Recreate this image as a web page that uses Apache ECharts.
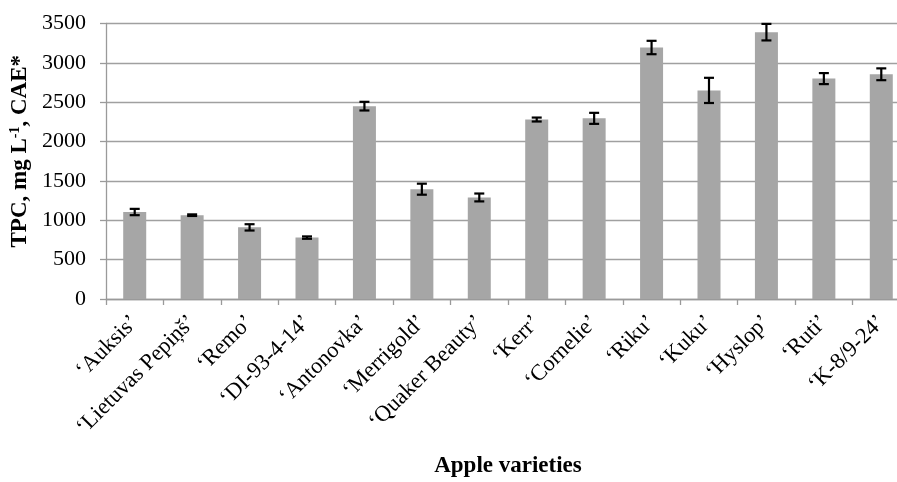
<!DOCTYPE html>
<html>
<head>
<meta charset="utf-8">
<script src="https://cdn.jsdelivr.net/npm/echarts@6/dist/echarts.min.js"></script>
<style>
  html, body { margin: 0; padding: 0; background: #fff; }
  #chart { width: 897px; height: 482px; }
</style>
</head>
<body>
<div id="chart"></div>
<script>
// Apple varieties and their total phenolic content (mg L-1, CAE)
const varieties = [
  '\u2018Auksis\u2019', '\u2018Lietuvas Pepiņš\u2019', '\u2018Remo\u2019', '\u2018DI-93-4-14\u2019',
  '\u2018Antonovka\u2019', '\u2018Merrigold\u2019', '\u2018Quaker Beauty\u2019', '\u2018Kerr\u2019',
  '\u2018Cornelie\u2019', '\u2018Riku\u2019', '\u2018Kuku\u2019', '\u2018Hyslop\u2019',
  '\u2018Ruti\u2019', '\u2018K-8/9-24\u2019'
];
const tpcMeans = [1105, 1065, 910, 780, 2450, 1395, 1290, 2280, 2295, 3195, 2650, 3390, 2800, 2855];
const tpcErrors = [40, 10, 40, 15, 55, 70, 50, 25, 70, 85, 160, 105, 70, 75];
const yTicks = { min: 0, max: 3500, step: 500 };

const serif = '"Liberation Serif", "Times New Roman", serif';
const chart = echarts.init(document.getElementById('chart'), null, { renderer: 'canvas' });

const errorData = tpcMeans.map((v, i) => [i, v - tpcErrors[i], v + tpcErrors[i]]);

chart.setOption({
  animation: false,
  backgroundColor: '#ffffff',
  grid: { left: 106, top: 23.5, width: 804, height: 275.5, containLabel: false, outerBoundsMode: 'none' },
  xAxis: {
    type: 'category',
    data: varieties,
    boundaryGap: true,
    name: 'Apple varieties',
    nameLocation: 'middle',
    nameGap: 156,
    nameTextStyle: { fontFamily: serif, fontSize: 23, fontWeight: 'bold', color: '#000' },
    axisLine: { lineStyle: { color: '#9a9a9a', width: 1.3 } },
    axisTick: { show: true, alignWithLabel: false, length: 6, lineStyle: { color: '#9a9a9a', width: 1.3 } },
    axisLabel: { rotate: 45, interval: 0, margin: 20, fontFamily: serif, fontSize: 22.5, color: '#000' }
  },
  yAxis: {
    type: 'value',
    min: yTicks.min,
    max: yTicks.max,
    interval: yTicks.step,
    name: '{n|TPC, mg L}{s|-1}{n|, CAE*}',
    nameLocation: 'middle',
    nameGap: 72,
    nameRotate: 90,
    nameTextStyle: {
      padding: [0, 0, 0, 20],
      rich: {
        n: { fontFamily: serif, fontSize: 23, fontWeight: 'bold', color: '#000' },
        s: { fontFamily: serif, fontSize: 14, fontWeight: 'bold', color: '#000', verticalAlign: 'top', padding: [0, 0, 9, 0] }
      }
    },
    axisLine: { show: true, lineStyle: { color: '#9a9a9a', width: 1.3 } },
    axisTick: { show: true, length: 6, lineStyle: { color: '#9a9a9a', width: 1.3 } },
    axisLabel: { margin: 20, fontFamily: serif, fontSize: 22, color: '#000', formatter: v => String(v) },
    splitLine: { show: true, lineStyle: { color: '#a0a0a0', width: 1.3 } }
  },
  series: [
    {
      type: 'bar',
      data: tpcMeans,
      barWidth: 23,
      itemStyle: { color: '#a6a6a6' },
      z: 2
    },
    {
      type: 'custom',
      data: errorData,
      z: 3,
      renderItem: function (params, api) {
        const x = api.value(0);
        const lo = api.coord([x, api.value(1)]);
        const hi = api.coord([x, api.value(2)]);
        const half = 5;
        const style = { stroke: '#000', lineWidth: 2.2 };
        return {
          type: 'group',
          children: [
            { type: 'line', shape: { x1: lo[0], y1: lo[1], x2: hi[0], y2: hi[1] }, style },
            { type: 'line', shape: { x1: lo[0] - half, y1: lo[1], x2: lo[0] + half, y2: lo[1] }, style },
            { type: 'line', shape: { x1: hi[0] - half, y1: hi[1], x2: hi[0] + half, y2: hi[1] }, style }
          ]
        };
      }
    }
  ]
});
</script>
</body>
</html>
